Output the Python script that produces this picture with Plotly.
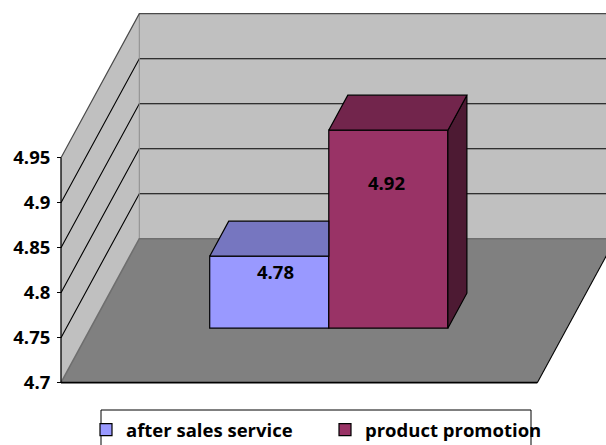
import plotly.graph_objects as go

# ---- data -------------------------------------------------------------
series_names = ["after sales service", "product promotion"]
series_values = [4.78, 4.92]
tick_values = [4.7, 4.75, 4.8, 4.85, 4.9, 4.95]
tick_labels = ["4.7", "4.75", "4.8", "4.85", "4.9", "4.95"]

# ---- styling ----------------------------------------------------------
FRONT_COLORS = ["#9999FF", "#993366"]
TOP_COLORS = ["#7676C0", "#72254C"]
SIDE_COLORS = ["#5C5C99", "#4D1A33"]
WALL_COLOR = "#C0C0C0"
FLOOR_COLOR = "#808080"
FONT = "Open Sans"

W, H = 606, 445
# front plane of the 3-D box: category axis 0..1, value axis in data units
X0_PX, X_UNIT_PX = 61.0, 476.3
V0_PX, V_UNIT_PX = 382.7, 900.0
# oblique depth offset of the back wall
DEPTH_X_PX, DEPTH_Y_PX = 78.3, 144.0
DX = DEPTH_X_PX / X_UNIT_PX
DV = DEPTH_Y_PX / V_UNIT_PX

V_MIN, V_MAX = tick_values[0], tick_values[-1]
x_range = [-X0_PX / X_UNIT_PX, (W - X0_PX) / X_UNIT_PX]
y_range = [V_MIN - (H - V0_PX) / V_UNIT_PX, V_MIN + V0_PX / V_UNIT_PX]

CAT_CENTER = 0.5
BAR_W = 0.25
D_FRONT, D_BACK = 0.3785, 0.6215
bar_left = [CAT_CENTER - BAR_W + i * BAR_W for i in range(len(series_values))]


def proj(x, v, d):
    """Oblique projection of (category x, value v, depth d) to the 2-D axes."""
    return x + d * DX, v + d * DV


def path(points, close=False):
    pts = [proj(*p) for p in points]
    if close:
        pts.append(pts[0])
    return [p[0] for p in pts], [p[1] for p in pts]


def face(points, fill, line_color="black", line_width=1.0, axes=("x", "y")):
    xs, ys = path(points, close=True)
    return go.Scatter(x=xs, y=ys, mode="lines", fill="toself", fillcolor=fill,
                      line=dict(color=line_color, width=line_width),
                      hoverinfo="skip", showlegend=False,
                      xaxis=axes[0], yaxis=axes[1])


def polyline(segments, color, width=1.0):
    xs, ys = [], []
    for seg in segments:
        sx, sy = path(seg)
        xs += sx + [None]
        ys += sy + [None]
    return go.Scatter(x=xs, y=ys, mode="lines", line=dict(color=color, width=width),
                      hoverinfo="skip", showlegend=False)


fig = go.Figure()

# ---- walls and floor (base axes) ---------------------------------------
fig.add_trace(face([(0, V_MIN, 0), (1, V_MIN, 0), (1, V_MIN, 1), (0, V_MIN, 1)],
                   FLOOR_COLOR, line_width=0))
fig.add_trace(face([(0, V_MIN, 0), (0, V_MAX, 0), (0, V_MAX, 1), (0, V_MIN, 1)],
                   WALL_COLOR, line_width=0))
fig.add_trace(face([(0, V_MIN, 1), (0, V_MAX, 1), (1, V_MAX, 1), (1, V_MIN, 1)],
                   WALL_COLOR, line_width=0))

# gridlines across the side wall and the back wall
fig.add_trace(polyline([[(0, v, 0), (0, v, 1), (1, v, 1)] for v in tick_values[1:-1]],
                       "black", 1.1))
# wall corner and floor seams
fig.add_trace(polyline([[(0, V_MIN, 1), (0, V_MAX, 1)]], "#8A8A8A", 1.0))
fig.add_trace(polyline([[(0, V_MIN, 0), (0, V_MIN, 1), (1, V_MIN, 1)]], "#6E6E6E", 1.6))
# top rim of the walls
fig.add_trace(polyline([[(0, V_MAX, 0), (0, V_MAX, 1), (1, V_MAX, 1)]], "#4A4A4A", 1.2))
# floor edges and value axis line
fig.add_trace(polyline([[(1, V_MIN, 0), (1, V_MIN, 1)]], "black", 1.1))
fig.add_trace(polyline([[(0, V_MIN, 0), (1, V_MIN, 0)]], "black", 1.8))
fig.add_trace(polyline([[(0, V_MIN, 0), (0, V_MAX, 0)]], "black", 1.3))

# ---- bars (overlay axes so they sit above the walls) -------------------
for i, (name, val) in enumerate(zip(series_names, series_values)):
    cx, base = proj(bar_left[i] + BAR_W / 2, V_MIN, D_FRONT)
    fig.add_trace(go.Bar(
        x=[cx], y=[val - V_MIN], base=[base], width=[BAR_W], name=name,
        marker=dict(color=FRONT_COLORS[i], line=dict(color="black", width=1.2)),
        xaxis="x2", yaxis="y2", hoverinfo="skip",
    ))

for i, val in enumerate(series_values):
    xl, xr = bar_left[i], bar_left[i] + BAR_W
    last = i == len(series_values) - 1
    if last:
        # right side face, visible only on the right-most bar
        fig.add_trace(face([(xr, V_MIN, D_FRONT), (xr, val, D_FRONT),
                            (xr, val, D_BACK), (xr, V_MIN, D_BACK)],
                           SIDE_COLORS[i], line_width=1.2, axes=("x2", "y2")))
        fig.add_trace(face([(xl, val, D_FRONT), (xl, val, D_BACK),
                            (xr, val, D_BACK), (xr, val, D_FRONT)],
                           TOP_COLORS[i], line_width=1.2, axes=("x2", "y2")))
    else:
        # top face, cut where the next bar's front face hides it
        cut = xr + (D_FRONT - D_BACK) * DX
        fig.add_trace(face([(xl, val, D_FRONT), (xl, val, D_BACK),
                            (cut, val, D_BACK), (xr, val + (D_BACK - D_FRONT) * DV, D_FRONT),
                            (xr, val, D_FRONT)],
                           TOP_COLORS[i], line_width=1.2, axes=("x2", "y2")))

# value labels on the bars
label_shift = [(6.7, -15.7), (-1.8, -52.0)]
for i, val in enumerate(series_values):
    lx, ly = proj(bar_left[i] + BAR_W / 2, val, D_FRONT)
    fig.add_annotation(x=lx, y=ly, xref="x2", yref="y2", text=f"{val:.2f}",
                       showarrow=False, xanchor="center", yanchor="middle",
                       xshift=label_shift[i][0], yshift=label_shift[i][1],
                       font=dict(family=FONT, size=18.5, color="black", weight="bold"))

# legend frame
fig.add_shape(type="rect", xref="paper", yref="paper",
              x0=101 / W, x1=531 / W, y0=1 - 410 / H, y1=-0.2,
              line=dict(color="black", width=1), fillcolor="rgba(0,0,0,0)")

axis_common = dict(showgrid=False, zeroline=False, showline=False)
fig.update_layout(
    width=W, height=H,
    margin=dict(l=0, r=0, t=0, b=0, autoexpand=False),
    paper_bgcolor="white", plot_bgcolor="rgba(0,0,0,0)",
    barmode="overlay",
    xaxis=dict(range=x_range, showticklabels=False, ticks="", **axis_common),
    yaxis=dict(range=y_range, anchor="free", position=X0_PX / W,
               tickmode="array", tickvals=tick_values, ticktext=tick_labels,
               ticks="outside", ticklen=4, tickwidth=1.2, tickcolor="black",
               ticklabelstandoff=3,
               tickfont=dict(family=FONT, size=18.5, color="black", weight="bold"),
               **axis_common),
    xaxis2=dict(range=x_range, overlaying="x", anchor="y2", visible=False),
    yaxis2=dict(range=y_range, overlaying="y", anchor="x2", visible=False),
    showlegend=True,
    legend=dict(orientation="h", x=86 / W, xanchor="left", y=1 - 411 / H, yanchor="top",
                bgcolor="rgba(0,0,0,0)", borderwidth=0,
                entrywidth=194, entrywidthmode="pixels",
                font=dict(family=FONT, size=18.5, color="black", weight="bold"),
                traceorder="normal"),
)

fig.write_html("out.html")
